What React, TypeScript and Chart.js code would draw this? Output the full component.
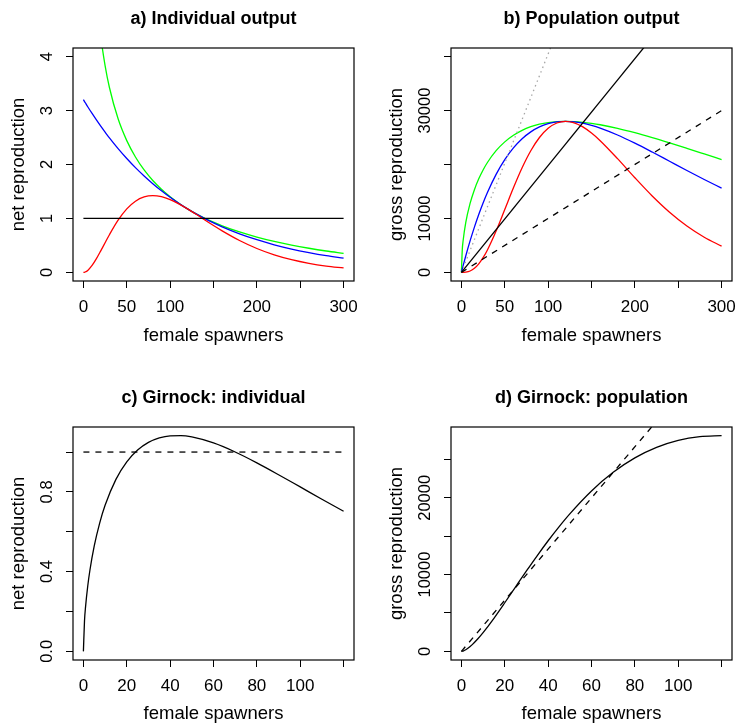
import React, { useEffect, useRef } from 'react';
import { Chart, registerables } from 'chart.js';

Chart.register(...registerables);

const FONT = '"Liberation Sans", Arial, Helvetica, sans-serif';

// ---------- Panels a & b: female spawners ----------
const spawners = [0, 1, 2, 5, 10, 15, 20, 25, 30, 40, 50, 60, 70, 80, 90, 100, 110, 120, 130, 140, 150, 160, 180, 200, 220, 240, 260, 280, 300];

const netBlue = [3.202, 3.175, 3.149, 3.071, 2.946, 2.826, 2.71, 2.6, 2.493, 2.294, 2.111, 1.942, 1.787, 1.644, 1.512, 1.391, 1.28, 1.178, 1.084, 0.997, 0.917, 0.844, 0.714, 0.605, 0.512, 0.433, 0.367, 0.31, 0.263];
const netGreen = [null, 21.19, 14.92, 9.32, 6.453, 5.16, 4.377, 3.834, 3.428, 2.847, 2.443, 2.139, 1.899, 1.704, 1.541, 1.402, 1.283, 1.178, 1.085, 1.003, 0.93, 0.863, 0.749, 0.654, 0.573, 0.505, 0.447, 0.396, 0.352];
const netRed = [0, 0.0016, 0.0063, 0.0363, 0.128, 0.254, 0.399, 0.55, 0.698, 0.967, 1.177, 1.32, 1.399, 1.423, 1.403, 1.349, 1.271, 1.178, 1.077, 0.972, 0.869, 0.77, 0.591, 0.443, 0.325, 0.235, 0.167, 0.117, 0.082];
const replacementX = [0, 300];
const replacementNet = [1, 1];

const grossBlue = [0, 629, 1248, 3042, 5835, 8396, 10738, 12874, 14819, 18179, 20907, 23082, 24777, 26051, 26965, 27565, 27897, 28000, 27908, 27652, 27258, 26751, 25474, 23960, 22310, 20601, 18892, 17222, 15619];
const grossGreen = [0, 4197, 5911, 9229, 12783, 15333, 17340, 18986, 20370, 22561, 24195, 25422, 26339, 27008, 27478, 27782, 27948, 28000, 27954, 27825, 27626, 27368, 26708, 25901, 24993, 24018, 22999, 21959, 20913];
const grossRed = [0, 0.3, 2.5, 36, 253, 755, 1579, 2722, 4151, 7663, 11656, 15686, 19401, 22552, 25007, 26716, 27693, 28000, 27724, 26969, 25833, 24417, 21086, 17544, 14163, 11152, 8600, 6515, 4860];
const lineReplacement = [0, 59430];
const lineDashed = [0, 30000];
const lineDotted = [0, 121500];

// ---------- Panels c & d: Girnock ----------
const spawnersG = [0, 0.5, 1, 2, 3, 5, 7.5, 10, 15, 20, 25, 30, 35, 40, 45, 50, 60, 70, 80, 90, 100, 110, 120];
const netGirnock = [0, 0.1528, 0.2246, 0.3279, 0.407, 0.529, 0.6437, 0.7329, 0.863, 0.9507, 1.0099, 1.0483, 1.0709, 1.0814, 1.0824, 1.0757, 1.0456, 1.0003, 0.9458, 0.8864, 0.825, 0.7634, 0.7031];
const grossGirnock = [0, 25, 75, 218, 407, 881, 1608, 2441, 4311, 6332, 8407, 10473, 12481, 14404, 16220, 17910, 20891, 23317, 25196, 26566, 27473, 27963, 28096];
const girnockLineX = [0, 120];
const girnockNetRef = [1, 1];
const girnockGrossRef = [0, 39960];

// ---------- Ticks ----------
const xTicksAB = [0, 50, 100, 150, 200, 250, 300];
const xLabelsAB = ['0', '50', '100', '', '200', '', '300'];
const xTicksCD = [0, 20, 40, 60, 80, 100, 120];
const xLabelsCD = ['0', '20', '40', '60', '80', '100', ''];
const yTicksA = [0, 1, 2, 3, 4];
const yLabelsA = ['0', '1', '2', '3', '4'];
const yTicksB = [0, 10000, 20000, 30000, 40000];
const yLabelsB = ['0', '10000', '', '30000', ''];
const yTicksC = [0, 0.2, 0.4, 0.6, 0.8, 1.0];
const yLabelsC = ['0.0', '', '0.4', '', '0.8', ''];
const yTicksD = [0, 5000, 10000, 15000, 20000, 25000];
const yLabelsD = ['0', '', '10000', '', '20000', ''];

type Series = { xs: number[]; ys: (number | null)[]; color: string; dash?: number[]; smooth?: boolean };

type PanelCfg = {
  left: number; top: number; width: number; height: number; padRight: number;
  xAxisHeight: number; xTitlePad: number;
  title: string; yTitle: string;
  xMin: number; xMax: number; yMin: number; yMax: number;
  xTicks: number[]; xLabels: string[]; yTicks: number[]; yLabels: string[];
  series: Series[];
};

const panels: PanelCfg[] = [
  {
    left: 0, top: 0, width: 368, height: 379, padRight: 14, xAxisHeight: 98, xTitlePad: 34,
    title: 'a) Individual output', yTitle: 'net reproduction',
    xMin: -12, xMax: 312, yMin: -0.16, yMax: 4.16,
    xTicks: xTicksAB, xLabels: xLabelsAB, yTicks: yTicksA, yLabels: yLabelsA,
    series: [
      { xs: replacementX, ys: replacementNet, color: '#000000' },
      { xs: spawners, ys: netRed, color: '#ff0000', smooth: true },
      { xs: spawners, ys: netBlue, color: '#0000ff', smooth: true },
      { xs: spawners, ys: netGreen, color: '#00ff00', smooth: true },
    ],
  },
  {
    left: 378, top: 0, width: 359, height: 379, padRight: 5, xAxisHeight: 98, xTitlePad: 34,
    title: 'b) Population output', yTitle: 'gross reproduction',
    xMin: -12, xMax: 312, yMin: -1600, yMax: 41600,
    xTicks: xTicksAB, xLabels: xLabelsAB, yTicks: yTicksB, yLabels: yLabelsB,
    series: [
      { xs: replacementX, ys: lineReplacement, color: '#000000' },
      { xs: replacementX, ys: lineDashed, color: '#000000', dash: [6, 6] },
      { xs: replacementX, ys: lineDotted, color: '#a6a6a6', dash: [1.5, 3.5] },
      { xs: spawners, ys: grossRed, color: '#ff0000', smooth: true },
      { xs: spawners, ys: grossBlue, color: '#0000ff', smooth: true },
      { xs: spawners, ys: grossGreen, color: '#00ff00', smooth: true },
    ],
  },
  {
    left: 0, top: 379, width: 368, height: 344, padRight: 14, xAxisHeight: 63, xTitlePad: 0,
    title: 'c) Girnock: individual', yTitle: 'net reproduction',
    xMin: -4.8, xMax: 124.8, yMin: -0.0433, yMax: 1.1257,
    xTicks: xTicksCD, xLabels: xLabelsCD, yTicks: yTicksC, yLabels: yLabelsC,
    series: [
      { xs: girnockLineX, ys: girnockNetRef, color: '#000000', dash: [6, 6] },
      { xs: spawnersG, ys: netGirnock, color: '#000000', smooth: true },
    ],
  },
  {
    left: 378, top: 379, width: 359, height: 344, padRight: 5, xAxisHeight: 63, xTitlePad: 0,
    title: 'd) Girnock: population', yTitle: 'gross reproduction',
    xMin: -4.8, xMax: 124.8, yMin: -1124, yMax: 29220,
    xTicks: xTicksCD, xLabels: xLabelsCD, yTicks: yTicksD, yLabels: yLabelsD,
    series: [
      { xs: girnockLineX, ys: girnockGrossRef, color: '#000000', dash: [6, 6] },
      { xs: spawnersG, ys: grossGirnock, color: '#000000', smooth: true },
    ],
  },
];

const boxPlugin = {
  id: 'rbox',
  afterDatasetsDraw(chart: any) {
    const { ctx, chartArea } = chart;
    ctx.save();
    ctx.strokeStyle = '#000';
    ctx.lineWidth = 1.2;
    ctx.strokeRect(chartArea.left, chartArea.top, chartArea.right - chartArea.left, chartArea.bottom - chartArea.top);
    ctx.restore();
  },
};

const makeYLabelPlugin = (labels: string[]) => ({
  id: 'rotYLabels',
  afterDraw(chart: any) {
    const s = chart.scales.y;
    const ctx = chart.ctx;
    ctx.save();
    ctx.fillStyle = '#000';
    ctx.font = `16.5px ${FONT}`;
    ctx.textAlign = 'center';
    ctx.textBaseline = 'middle';
    s.ticks.forEach((t: any, i: number) => {
      const lab = labels[i];
      if (!lab) return;
      const y = s.getPixelForValue(t.value);
      ctx.save();
      ctx.translate(chart.chartArea.left - 25.5, y);
      ctx.rotate(-Math.PI / 2);
      ctx.fillText(lab, 0, 0);
      ctx.restore();
    });
    ctx.restore();
  },
});

function Panel({ cfg }: { cfg: PanelCfg }) {
  const ref = useRef<HTMLCanvasElement | null>(null);
  useEffect(() => {
    if (!ref.current) return;
    const gridOpts = { drawOnChartArea: false, drawTicks: true, tickLength: 7, color: '#000', lineWidth: 1 };
    const chart = new Chart(ref.current, {
      type: 'line',
      data: {
        datasets: cfg.series.map((s) => ({
          data: s.xs.map((x, i) => ({ x, y: s.ys[i] })),
          borderColor: s.color,
          borderWidth: 1.3,
          borderDash: s.dash || [],
          pointRadius: 0,
          fill: false,
          tension: 0,
          cubicInterpolationMode: s.smooth ? 'monotone' : 'default',
          spanGaps: false,
        })),
      } as any,
      options: {
        responsive: false,
        animation: false,
        events: [],
        layout: { padding: { left: 0, top: 0, right: cfg.padRight, bottom: 0 } },
        plugins: {
          legend: { display: false },
          tooltip: { enabled: false },
          title: {
            display: true,
            text: cfg.title,
            fullSize: false,
            color: '#000',
            font: { family: FONT, size: 18, weight: 'bold', lineHeight: 1 },
            padding: { top: 10, bottom: 20 },
          },
        },
        scales: {
          x: {
            type: 'linear',
            min: cfg.xMin,
            max: cfg.xMax,
            afterBuildTicks: (s: any) => { s.ticks = cfg.xTicks.map((v) => ({ value: v })); },
            afterFit: (s: any) => { s.height = cfg.xAxisHeight; s.paddingLeft = 0; s.paddingRight = 0; },
            ticks: {
              callback: (_v: any, i: number) => cfg.xLabels[i],
              color: '#000',
              font: { family: FONT, size: 17 },
              padding: 9,
              maxRotation: 0,
              minRotation: 0,
              autoSkip: false,
            },
            grid: gridOpts,
            border: { display: false },
            title: {
              display: true,
              text: 'female spawners',
              color: '#000',
              font: { family: FONT, size: 18.5, lineHeight: 1 },
              padding: { top: 0, bottom: cfg.xTitlePad },
            },
          },
          y: {
            type: 'linear',
            min: cfg.yMin,
            max: cfg.yMax,
            afterBuildTicks: (s: any) => { s.ticks = cfg.yTicks.map((v) => ({ value: v })); },
            afterFit: (s: any) => { s.width = 73; s.paddingTop = 0; s.paddingBottom = 0; },
            ticks: { display: false },
            grid: gridOpts,
            border: { display: false },
            title: {
              display: true,
              text: cfg.yTitle,
              color: '#000',
              font: { family: FONT, size: 18.5, lineHeight: 1 },
              padding: { top: 10, bottom: 0 },
            },
          },
        },
      } as any,
      plugins: [boxPlugin, makeYLabelPlugin(cfg.yLabels)],
    });
    return () => chart.destroy();
  }, [cfg]);
  return (
    <canvas
      ref={ref}
      width={cfg.width}
      height={cfg.height}
      style={{ position: 'absolute', left: cfg.left, top: cfg.top, width: cfg.width, height: cfg.height }}
    />
  );
}

export default function App() {
  return (
    <div style={{ position: 'absolute', left: 0, top: 0, width: 737, height: 723, background: '#fff', overflow: 'hidden' }}>
      {panels.map((p, i) => (
        <Panel key={i} cfg={p} />
      ))}
    </div>
  );
}
